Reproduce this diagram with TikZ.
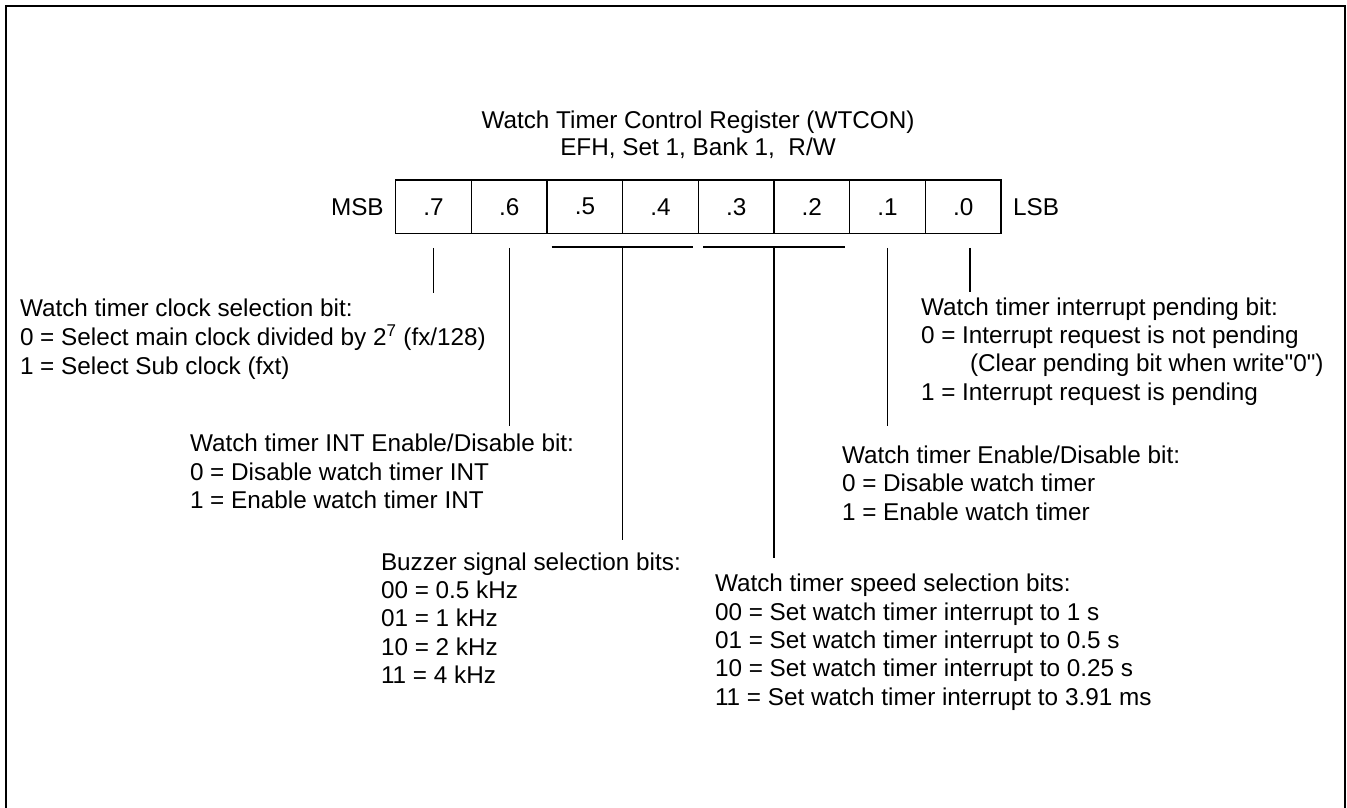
\documentclass[tikz,border=0pt]{standalone}
\usepackage{fontspec}
\setmainfont{Liberation Sans}[Ligatures=TeXOff]
\begin{document}
\begin{tikzpicture}[x=1pt,y=-1pt,
  every node/.style={font=\fontsize{24.3}{28.3}\selectfont, inner sep=0pt, outer sep=0pt},
  cell/.style={minimum width=75.66pt, minimum height=53.3pt},
  boxline/.style={line width=1.4pt},
  conn/.style={line width=1.4pt},
  brk/.style={line width=2pt},
  frame/.style={line width=2pt}]
\useasboundingbox (0,0) rectangle (1347,808);
\draw[frame] (6,808) -- (6,6) -- (1345,6) -- (1345,808);

% title
\node[anchor=base, font=\fontsize{24.3}{27}\selectfont] (title) at (698,128.5)
  {\begin{tabular}[t]{@{}c@{}}Watch Timer Control Register (WTCON)\\EFH, Set 1, Bank 1,\ \ R/W\end{tabular}};

% register cells
\node[cell] (c7) at (433.5,206.7) {.7};
\node[cell] (c6) at (509.2,206.7) {.6};
\node[cell] (c5) at (584.9,206.7) {.5};
\node[cell] (c4) at (660.5,206.7) {.4};
\node[cell] (c3) at (736.2,206.7) {.3};
\node[cell] (c2) at (811.8,206.7) {.2};
\node[cell] (c1) at (887.5,206.7) {.1};
\node[cell] (c0) at (963.2,206.7) {.0};
\draw[boxline] (c7.north west) rectangle (c0.south east);
\foreach \c in {c7,c6,c5,c4,c3,c2,c1}
  \draw[boxline] (\c.north east) -- (\c.south east);
\node[anchor=east] (msb) at ([xshift=-12pt]c7.west) {MSB};
\node[anchor=west] (lsb) at ([xshift=12pt]c0.east) {LSB};

% description blocks
\node[anchor=base west] (clk) at (20,316.5)
  {\begin{tabular}[t]{@{}l@{}}Watch timer clock selection bit:\\
   0 = Select main clock divided by 2\textsuperscript{7} (fx/128)\\
   1 = Select Sub clock (fxt)\end{tabular}};
\node[anchor=base west] (intd) at (190,451.8)
  {\begin{tabular}[t]{@{}l@{}}Watch timer INT Enable/Disable bit:\\
   0 = Disable watch timer INT\\
   1 = Enable watch timer INT\end{tabular}};
\node[anchor=base west] (buz) at (381,570.2)
  {\begin{tabular}[t]{@{}l@{}}Buzzer signal selection bits:\\
   00 = 0.5 kHz\\ 01 = 1 kHz\\ 10 = 2 kHz\\ 11 = 4 kHz\end{tabular}};
\node[anchor=base west] (spd) at (715,591.8)
  {\begin{tabular}[t]{@{}l@{}}Watch timer speed selection bits:\\
   00 = Set watch timer interrupt to 1 s\\
   01 = Set watch timer interrupt to 0.5 s\\
   10 = Set watch timer interrupt to 0.25 s\\
   11 = Set watch timer interrupt to 3.91 ms\end{tabular}};
\node[anchor=base west] (pnd) at (921,315.2)
  {\begin{tabular}[t]{@{}l@{}}Watch timer interrupt pending bit:\\
   0 = Interrupt request is not pending\\
   \hspace*{49pt}(Clear pending bit when write"0")\\
   1 = Interrupt request is pending\end{tabular}};
\node[anchor=base west] (wen) at (842,463.5)
  {\begin{tabular}[t]{@{}l@{}}Watch timer Enable/Disable bit:\\
   0 = Disable watch timer\\
   1 = Enable watch timer\end{tabular}};

% connectors
\draw[conn] ([yshift=-14.4pt]c7.south) -- ++(0,45.6);
\draw[conn] ([yshift=-14.4pt]c6.south) -- ++(0,178.3);
\draw[brk] ([xshift=4.5pt,yshift=-13.4pt]c5.south west) -- ([xshift=-5pt,yshift=-13.4pt]c4.south east);
\draw[conn] ([yshift=-13.4pt]c5.south east) -- ++(0,293.3);
\draw[brk] ([xshift=4.8pt,yshift=-13.4pt]c3.south west) -- ([xshift=-4.5pt,yshift=-13.4pt]c2.south east);
\draw[conn] ([yshift=-13.4pt]c3.south east) -- ++(0,311.6);
\draw[conn] ([yshift=-14.4pt]c1.south) -- ++(0,178.6);
\draw[conn] ([xshift=6.8pt,yshift=-14.4pt]c0.south) -- ++(0,44.3);
\end{tikzpicture}
\end{document}
